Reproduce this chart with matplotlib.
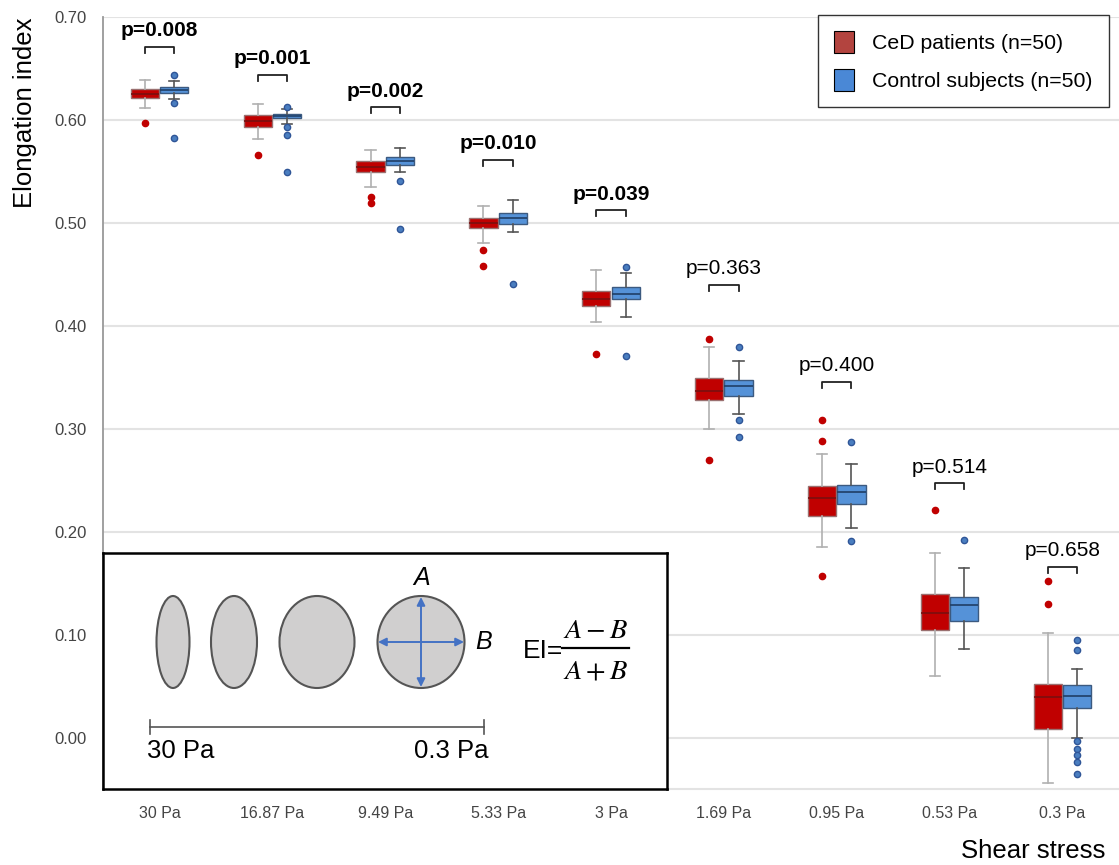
import matplotlib
matplotlib.use("Agg")
import matplotlib.pyplot as plt
from matplotlib.patches import Ellipse, Patch

plt.rcParams['font.family'] = ['Liberation Sans', 'DejaVu Sans']

categories = ["30 Pa", "16.87 Pa", "9.49 Pa", "5.33 Pa", "3 Pa", "1.69 Pa", "0.95 Pa", "0.53 Pa", "0.3 Pa"]

# CeD patients: whisker low, Q1, median, Q3, whisker high
ced_whislo = [0.612, 0.581, 0.535, 0.480, 0.404, 0.300, 0.185, 0.060, -0.044]
ced_q1     = [0.621, 0.593, 0.549, 0.495, 0.419, 0.328, 0.215, 0.104, 0.008]
ced_med    = [0.625, 0.599, 0.554, 0.500, 0.426, 0.337, 0.233, 0.121, 0.039]
ced_q3     = [0.630, 0.605, 0.560, 0.505, 0.434, 0.349, 0.244, 0.139, 0.052]
ced_whishi = [0.639, 0.615, 0.571, 0.516, 0.454, 0.379, 0.275, 0.179, 0.102]
ced_fliers = [[0.597], [0.566], [0.525, 0.519], [0.474, 0.458], [0.373],
              [0.387, 0.270], [0.308, 0.288, 0.157], [0.221], [0.152, 0.130]]

# Control subjects
ctl_whislo = [0.620, 0.596, 0.549, 0.491, 0.409, 0.314, 0.204, 0.086, 0.000]
ctl_q1     = [0.626, 0.602, 0.556, 0.499, 0.426, 0.332, 0.227, 0.113, 0.029]
ctl_med    = [0.629, 0.604, 0.560, 0.505, 0.431, 0.342, 0.239, 0.129, 0.040]
ctl_q3     = [0.632, 0.606, 0.564, 0.510, 0.438, 0.347, 0.245, 0.137, 0.051]
ctl_whishi = [0.638, 0.611, 0.573, 0.522, 0.451, 0.366, 0.266, 0.165, 0.067]
ctl_fliers = [[0.644, 0.616, 0.582], [0.613, 0.593, 0.585, 0.549], [0.541, 0.494], [0.441],
              [0.457, 0.371], [0.379, 0.308, 0.292], [0.287, 0.191], [0.192],
              [0.095, 0.085, -0.003, -0.011, -0.017, -0.024, -0.035]]

p_labels = ["p=0.008", "p=0.001", "p=0.002", "p=0.010", "p=0.039", "p=0.363", "p=0.400", "p=0.514", "p=0.658"]
p_bold = [True, True, True, True, True, False, False, False, False]
bracket_y = [0.671, 0.644, 0.6126, 0.5614, 0.5123, 0.4398, 0.3456, 0.2473, 0.166]

yticks = [0.0, 0.1, 0.2, 0.3, 0.4, 0.5, 0.6, 0.7]

RED = '#C00000'
BLUE = '#5592D8'

fig = plt.figure(figsize=(11.19, 8.65), dpi=100)
ax = fig.add_axes([103/1119, 76/865, 1016/1119, 772/865])

def stats(wl, q1, md, q3, wh, fl):
    return [dict(whislo=a, q1=b, med=c, q3=d, whishi=e, fliers=f)
            for a, b, c, d, e, f in zip(wl, q1, md, q3, wh, fl)]

n = len(categories)
off = 0.13
w = 0.25
ax.bxp(stats(ced_whislo, ced_q1, ced_med, ced_q3, ced_whishi, ced_fliers),
       positions=[i - off for i in range(n)], widths=w, capwidths=0.09, patch_artist=True,
       boxprops=dict(facecolor=RED, edgecolor='#9a7070', linewidth=1),
       medianprops=dict(color='#7a0f0f', linewidth=1.2),
       whiskerprops=dict(color='#b0b0b0', linewidth=1.2),
       capprops=dict(color='#b0b0b0', linewidth=1.2),
       flierprops=dict(marker='o', markerfacecolor=RED, markeredgecolor=RED, markersize=4.5))
ax.bxp(stats(ctl_whislo, ctl_q1, ctl_med, ctl_q3, ctl_whishi, ctl_fliers),
       positions=[i + off for i in range(n)], widths=w, capwidths=0.09, patch_artist=True,
       boxprops=dict(facecolor=BLUE, edgecolor='#3c5a80', linewidth=1),
       medianprops=dict(color='#1f3f66', linewidth=1.2),
       whiskerprops=dict(color='#555555', linewidth=1.2),
       capprops=dict(color='#555555', linewidth=1.2),
       flierprops=dict(marker='o', markerfacecolor='#4A7EC0', markeredgecolor='#2F5597', markersize=4.5))

for i in range(n):
    b = bracket_y[i]
    ax.plot([i - off, i - off, i + off, i + off], [b - 0.006, b, b, b - 0.006],
            color='#222222', linewidth=1.3, clip_on=False)
    ax.text(i, b + 0.0155, p_labels[i], ha='center', va='center', fontsize=15,
            fontweight='bold' if p_bold[i] else 'normal', color='black')

ax.set_xlim(-0.5, n - 0.5)
ax.set_ylim(-0.05, 0.70)
ax.set_xticks(range(n))
ax.set_xticklabels(categories, fontsize=11.5, color='#444444')
ax.set_yticks(yticks)
ax.set_yticklabels([f"{v:.2f}" for v in yticks], fontsize=12, color='#444444')
ax.tick_params(axis='both', length=0, pad=12)
ax.grid(axis='y', color='#e3e3e3', linewidth=1.5)
ax.set_axisbelow(True)
for s in ['top', 'right']:
    ax.spines[s].set_visible(False)
ax.spines['left'].set_color('#999999')
ax.spines['left'].set_linewidth(1.3)
ax.spines['bottom'].set_color('#e3e3e3')
ax.spines['bottom'].set_linewidth(1.5)

fig.text(25/1119, 1 - 113/865, "Elongation index", rotation=90, ha='center', va='center', fontsize=18.5)
fig.text(1105/1119, 1 - 851/865, "Shear stress", ha='right', va='center', fontsize=18.5)

handles = [Patch(facecolor='#B3443F', edgecolor='black', linewidth=0.8, label='CeD patients (n=50)'),
           Patch(facecolor='#4A88D6', edgecolor='black', linewidth=0.8, label='Control subjects (n=50)')]
leg = fig.legend(handles=handles, loc='upper left', bbox_to_anchor=(818/1119, 1 - 15/865),
                 borderaxespad=0, fontsize=15.3, frameon=True, fancybox=False, edgecolor='black',
                 handlelength=0.95, handleheight=1.2, handletextpad=0.85, borderpad=0.75,
                 labelspacing=0.75)
leg.get_frame().set_linewidth(1.0)

# inset explanatory box
ins = fig.add_axes([103/1119, 76/865, 564/1119, 236/865])
ins.set_xlim(0, 564)
ins.set_ylim(0, 236)
ins.set_xticks([])
ins.set_yticks([])
ins.set_facecolor('white')
for s in ins.spines.values():
    s.set_color('black')
    s.set_linewidth(1.8)

def P(xi, yi):
    return xi - 103, 789 - yi

shape_x = [173, 234, 317, 421]
shape_w = [33, 46, 75, 87]
for cx, ww in zip(shape_x, shape_w):
    ins.add_patch(Ellipse(P(cx, 642), ww, 92, facecolor='#D0CFCF', edgecolor='#555555', linewidth=1.5))

arrow_kw = dict(arrowstyle='<|-|>', color='#4472C4', lw=1.4, mutation_scale=12, shrinkA=0, shrinkB=0)
ins.annotate('', xy=P(421, 597), xytext=P(421, 687), arrowprops=arrow_kw)
ins.annotate('', xy=P(378, 642), xytext=P(464, 642), arrowprops=arrow_kw)
ins.text(*P(422, 578), 'A', ha='center', va='center', fontsize=18, style='italic')
ins.text(*P(484, 642), 'B', ha='center', va='center', fontsize=18, style='italic')
ins.text(*P(563, 651), 'EI=', ha='right', va='center', fontsize=19)
ins.plot([P(562, 0)[0], P(629, 0)[0]], [P(0, 648)[1]] * 2, color='black', linewidth=1.6)
ins.text(*P(596, 631), r'$A-B$', ha='center', va='center', fontsize=20.5, math_fontfamily='stix')
ins.text(*P(596, 671), r'$A+B$', ha='center', va='center', fontsize=20.5, math_fontfamily='stix')

ins.plot([P(150, 0)[0], P(484, 0)[0]], [P(0, 727)[1]] * 2, color='#555555', linewidth=1.2)
for xx in [150, 484]:
    ins.plot([P(xx, 0)[0]] * 2, [P(0, 720)[1], P(0, 734)[1]], color='#555555', linewidth=1.2)
ins.text(*P(147, 751), '30 Pa', ha='left', va='center', fontsize=18.5)
ins.text(*P(488, 751), '0.3 Pa', ha='right', va='center', fontsize=18.5)

fig.savefig('out.png', dpi=100)
